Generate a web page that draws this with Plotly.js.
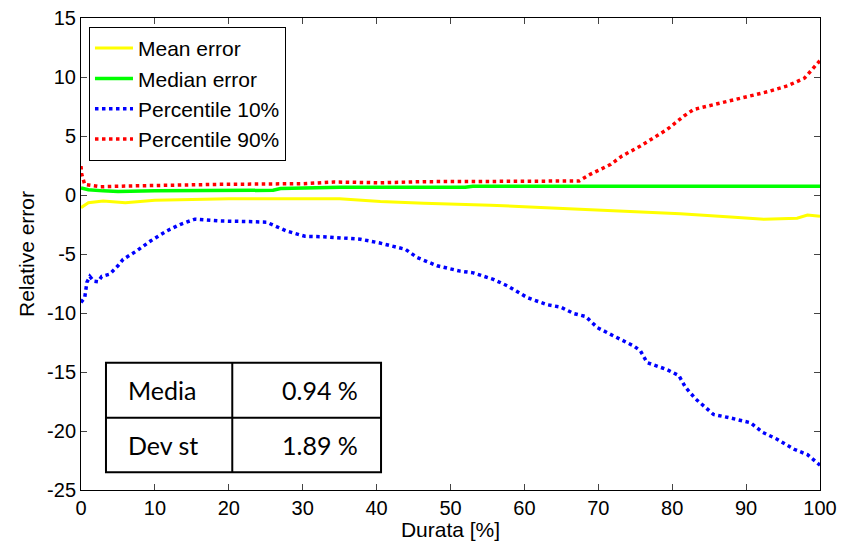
<!DOCTYPE html>
<html>
<head>
<meta charset="utf-8">
<script src="https://cdn.plot.ly/plotly-3.0.1.min.js"></script>
<style>html,body{margin:0;padding:0;background:#fff;}#chart{width:848px;height:541px;}</style>
</head>
<body>
<div id="chart"></div>
<script>
// Mean error
var meanX = [0, 0.5, 1, 3, 5, 6, 10, 20, 35, 40.5, 46.4, 50.9, 55.4, 62.2, 69.4, 75.3, 81.1, 87.9, 92.4, 96.9, 98.3, 100];
var meanY = [-1.07, -0.85, -0.65, -0.5, -0.6, -0.65, -0.45, -0.31, -0.31, -0.55, -0.7, -0.78, -0.87, -1.05, -1.25, -1.44, -1.58, -1.86, -2.06, -1.97, -1.7, -1.8];
// Median error
var medianX = [0, 1, 3, 5, 10, 20, 26, 27, 35, 52, 53, 100];
var medianY = [0.6, 0.45, 0.35, 0.3, 0.35, 0.35, 0.4, 0.55, 0.65, 0.65, 0.75, 0.75];
// Percentile 10%
var p10X = [0, 0.5, 0.8, 1.2, 1.7, 2.3, 2.8, 3.9, 5.0, 5.7, 7.5, 9.4, 11.6, 13.4, 15.4, 18.8, 22.4, 25.1, 27.8, 30.3, 33.2, 37.8, 40.3, 43.9, 45.5, 48.2, 51.3, 53.1, 55.8, 57.7, 60.4, 63.1, 64.9, 66.7, 68.3, 69.9, 72.1, 74.8, 75.7, 76.6, 79.3, 80.9, 81.8, 83.2, 84.5, 85.6, 87.9, 90.6, 92.2, 94.2, 96.5, 98.3, 100];
var p10Y = [-9.1, -8.7, -7.4, -6.9, -7.3, -7.35, -6.9, -6.7, -6.0, -5.45, -4.75, -3.9, -3.05, -2.5, -2.05, -2.2, -2.25, -2.3, -3.05, -3.5, -3.55, -3.75, -4.05, -4.6, -5.3, -6.0, -6.45, -6.6, -7.15, -7.7, -8.7, -9.3, -9.5, -10.05, -10.3, -11.25, -11.95, -12.8, -13.2, -14.2, -14.8, -15.3, -16.3, -17.3, -18.0, -18.6, -18.9, -19.3, -20.1, -20.7, -21.55, -22.0, -22.9];
// Percentile 90%
var p90X = [0, 0.1, 0.5, 2.6, 6.2, 10.7, 18.4, 30.1, 34.2, 40.5, 46.4, 55, 64.9, 67.4, 68.9, 71.7, 73.2, 75.7, 79.3, 81.6, 82.9, 86.1, 89.3, 92.9, 95.6, 97.9, 100];
var p90Y = [2.45, 1.75, 0.9, 0.7, 0.76, 0.82, 0.9, 0.96, 1.1, 1.04, 1.13, 1.15, 1.19, 1.19, 1.75, 2.6, 3.3, 4.15, 5.55, 6.7, 7.25, 7.75, 8.25, 8.75, 9.25, 9.9, 11.4];

var seriesNames = ['Mean error', 'Median error', 'Percentile 10%', 'Percentile 90%'];
var tableLabels = ['Media', 'Dev st'];
var tableValues = ['0.94 %', '1.89 %'];
var xTicks = [0, 10, 20, 30, 40, 50, 60, 70, 80, 90, 100];
var yTicks = [-25, -20, -15, -10, -5, 0, 5, 10, 15];

var font = 'Liberation Sans, Arial, sans-serif';

var traces = [
  {x: meanX, y: meanY, name: seriesNames[0], mode: 'lines', line: {color: '#ffff00', width: 3}},
  {x: medianX, y: medianY, name: seriesNames[1], mode: 'lines', line: {color: '#00ff00', width: 3.5}},
  {x: p10X, y: p10Y, name: seriesNames[2], mode: 'lines', line: {color: '#0000ff', width: 3.5, dash: 'dot'}},
  {x: p90X, y: p90Y, name: seriesNames[3], mode: 'lines', line: {color: '#ff0000', width: 3.5, dash: 'dot'}}
];

// table geometry in paper coords
var tx0 = 0.0338, tx1 = 0.406, txm = 0.2047;
var ty0 = 0.0375, ty1 = 0.2697, tym = 0.1532;
var tblLine = {color: '#000', width: 2};
var shapes = [
  {type: 'rect', xref: 'paper', yref: 'paper', x0: tx0, x1: tx1, y0: ty0, y1: ty1, line: tblLine, fillcolor: '#fff', layer: 'above'},
  {type: 'line', xref: 'paper', yref: 'paper', x0: txm, x1: txm, y0: ty0, y1: ty1, line: tblLine, layer: 'above'},
  {type: 'line', xref: 'paper', yref: 'paper', x0: tx0, x1: tx1, y0: tym, y1: tym, line: tblLine, layer: 'above'}
];
var rowY = [(ty1 + tym) / 2, (tym + ty0) / 2];
var tfont = {family: 'Lato, Carlito, sans-serif', size: 25, color: '#000'};
var annotations = [];
for (var i = 0; i < tableLabels.length; i++) {
  annotations.push({xref: 'paper', yref: 'paper', x: 0.0605, y: rowY[i], text: tableLabels[i], showarrow: false, xanchor: 'left', yanchor: 'middle', font: tfont});
  annotations.push({xref: 'paper', yref: 'paper', x: 0.378, y: rowY[i], text: tableValues[i], showarrow: false, xanchor: 'right', yanchor: 'middle', font: tfont});
}

var layout = {
  width: 848, height: 541,
  margin: {l: 81, r: 28, t: 18, b: 51},
  paper_bgcolor: '#fff', plot_bgcolor: '#fff',
  font: {family: font, size: 20, color: '#000'},
  showlegend: true,
  legend: {
    x: 0.0108, y: 0.981, xanchor: 'left', yanchor: 'top',
    bgcolor: '#fff', bordercolor: '#000', borderwidth: 1,
    font: {family: font, size: 21, color: '#000'},
    itemwidth: 38, traceorder: 'normal'
  },
  xaxis: {
    range: [0, 100], tickmode: 'array', tickvals: xTicks, ticktext: xTicks.map(String),
    ticks: 'inside', ticklen: 6, tickcolor: '#444', showline: true, linecolor: '#000', linewidth: 1,
    mirror: 'ticks', showgrid: false, zeroline: false,
    tickfont: {family: font, size: 20, color: '#000'},
    title: {text: 'Durata [%]', font: {family: font, size: 21, color: '#000'}, standoff: 4}
  },
  yaxis: {
    range: [-25, 15], tickmode: 'array', tickvals: yTicks, ticktext: yTicks.map(String),
    ticks: 'inside', ticklen: 6, tickcolor: '#444', showline: true, linecolor: '#000', linewidth: 1,
    mirror: 'ticks', showgrid: false, zeroline: false,
    tickfont: {family: font, size: 20, color: '#000'},
    title: {text: 'Relative error', font: {family: font, size: 21, color: '#000'}, standoff: 6}
  },
  shapes: shapes,
  annotations: annotations
};

Plotly.newPlot('chart', traces, layout, {displayModeBar: false, staticPlot: true});
</script>
</body>
</html>
